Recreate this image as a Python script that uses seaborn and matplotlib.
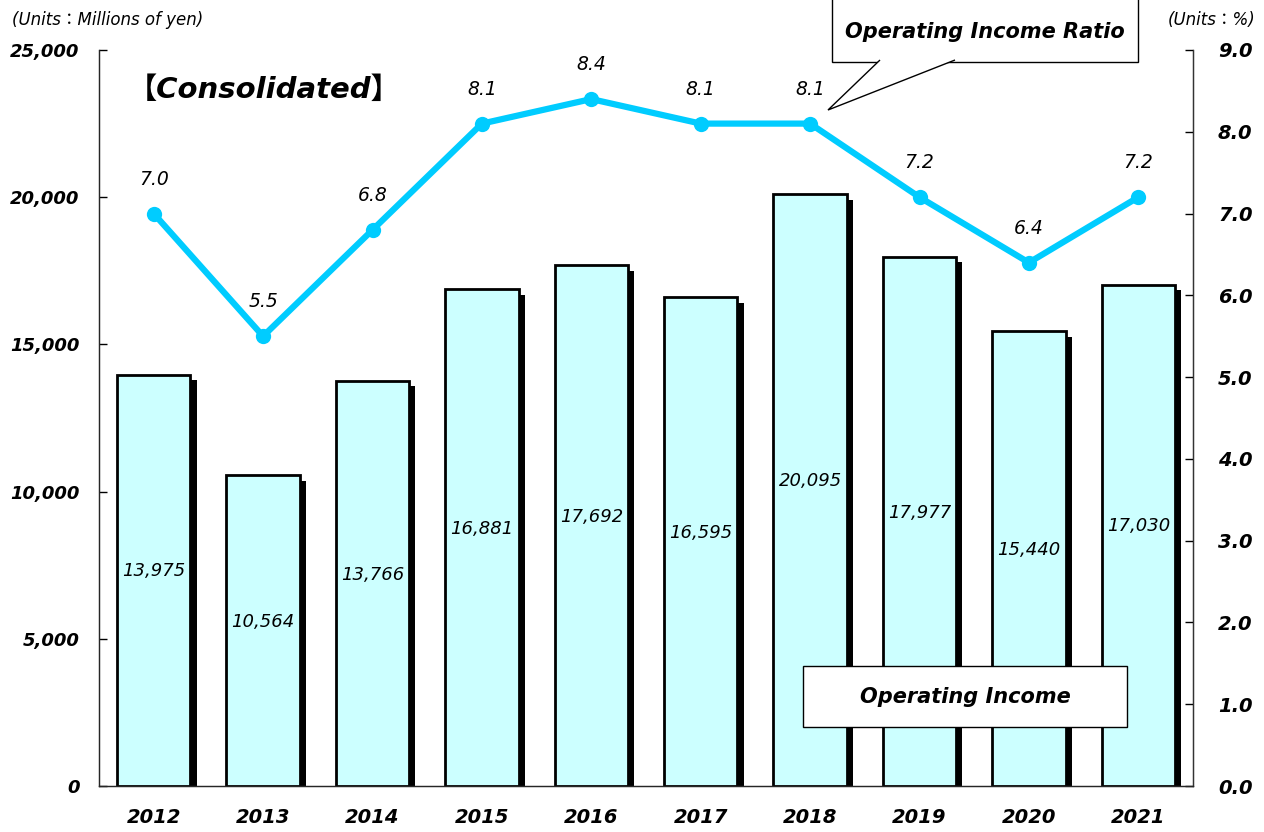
import numpy as np
import pandas as pd
import seaborn as sns
import matplotlib.pyplot as plt
from matplotlib.patches import Rectangle, Polygon
from matplotlib.ticker import FuncFormatter, FixedLocator
import matplotlib.patheffects as pe

# === DATI ===
years = ['2012', '2013', '2014', '2015', '2016', '2017', '2018', '2019', '2020', '2021']
operating_income = [13975, 10564, 13766, 16881, 17692, 16595, 20095, 17977, 15440, 17030]
income_ratio = [7.0, 5.5, 6.8, 8.1, 8.4, 8.1, 8.1, 7.2, 6.4, 7.2]

df = pd.DataFrame({'year': years, 'income': operating_income, 'ratio': income_ratio})

sns.set_style('white')
plt.rcParams['font.family'] = ['DejaVu Sans', 'Noto Sans CJK JP']
plt.rcParams['text.color'] = 'black'
plt.rcParams['xtick.color'] = 'black'
plt.rcParams['ytick.color'] = 'black'

W, H = 1264, 832
fig = plt.figure(figsize=(W / 100, H / 100), dpi=100)
ax = fig.add_axes([99 / W, 1 - 786 / H, (1193 - 99) / W, (786 - 50) / H])

# === BARRE ===
sns.barplot(data=df, x='year', y='income', ax=ax, color='#CCFFFF', width=0.67,
            edgecolor='black', linewidth=2, saturation=1, errorbar=None, zorder=2)
for bar in ax.patches:
    bar.set_path_effects([pe.SimplePatchShadow(offset=(4.5, -4), shadow_rgbFace='black', alpha=1),
                          pe.Normal()])

for i, v in enumerate(operating_income):
    ax.text(i, v / 2 + 300, f'{v:,}', ha='center', va='center', fontsize=13,
            style='italic', zorder=4)

ax.set_xlim(-0.5, len(years) - 0.5)
ax.set_ylim(0, 25000)
ax.set_yticks(range(0, 25001, 5000))
ax.yaxis.set_major_formatter(FuncFormatter(lambda v, p: f'{int(v):,}'))
ax.set_xlabel('')
ax.set_ylabel('')
ax.tick_params(axis='y', direction='in', length=6, width=1, pad=14, labelsize=13)
ax.tick_params(axis='x', which='major', length=0, pad=16, labelsize=14)
ax.xaxis.set_minor_locator(FixedLocator(np.arange(0.5, len(years) - 1, 1)))
ax.tick_params(axis='x', which='minor', direction='in', length=6, width=1)
for lab in ax.get_xticklabels() + ax.get_yticklabels():
    lab.set_fontweight('bold')
    lab.set_style('italic')

for s in ['left', 'bottom', 'right']:
    ax.spines[s].set_color('#333333')
    ax.spines[s].set_linewidth(1)
ax.spines['top'].set_visible(False)

# === LINEA ===
ax2 = ax.twinx()
sns.lineplot(x=np.arange(len(years)), y=income_ratio, ax=ax2, color='#00CCFF',
             linewidth=4.5, marker='o', markersize=11, markeredgewidth=0,
             markerfacecolor='#00CCFF')
for i, r in enumerate(income_ratio):
    ax2.text(i, r + 0.42, f'{r:.1f}', ha='center', va='center', fontsize=13.5,
             style='italic')
ax2.set_ylim(0, 9)
ax2.set_yticks(np.arange(0, 9.1, 1))
ax2.yaxis.set_major_formatter(FuncFormatter(lambda v, p: f'{v:.1f}'))
ax2.tick_params(axis='y', direction='in', length=6, width=1, pad=18, labelsize=14)
for lab in ax2.get_yticklabels():
    lab.set_fontweight('bold')
    lab.set_style('italic')
ax2.spines['top'].set_visible(False)
ax2.spines['right'].set_color('#333333')
ax2.set_xlim(-0.5, len(years) - 0.5)


def fx(px):
    return px / W


def fy(py):
    return 1 - py / H


# === TESTI ===
fig.text(fx(12), fy(20), '(Units：Millions of yen)', fontsize=12, style='italic',
         va='center', ha='left')
fig.text(fx(1255), fy(20), '(Units：%)', fontsize=12, style='italic',
         va='center', ha='right')
fig.text(fx(264), fy(90), '【Consolidated】', fontsize=21, style='italic',
         fontweight='bold', va='center', ha='center')

# callout del rapporto
fig.add_artist(Rectangle((fx(832), fy(62)), fx(1138 - 832), 70 / H, transform=fig.transFigure,
                         fc='white', ec='black', lw=1, zorder=10))
fig.add_artist(Polygon([(fx(880), fy(60)), (fx(828), fy(110)), (fx(955), fy(60))],
                       closed=False, transform=fig.transFigure, fc='white', ec='black',
                       lw=1, zorder=11))
fig.text(fx(985), fy(32), 'Operating Income Ratio', fontsize=15, style='italic',
         fontweight='bold', va='center', ha='center', zorder=12)

# legenda barre
fig.add_artist(Rectangle((fx(803), fy(727)), fx(1127 - 803), 61 / H, transform=fig.transFigure,
                         fc='white', ec='black', lw=1, zorder=10))
fig.text(fx(965), fy(697), 'Operating Income', fontsize=15, style='italic',
         fontweight='bold', va='center', ha='center', zorder=12)

fig.savefig('out.png', dpi=100)
